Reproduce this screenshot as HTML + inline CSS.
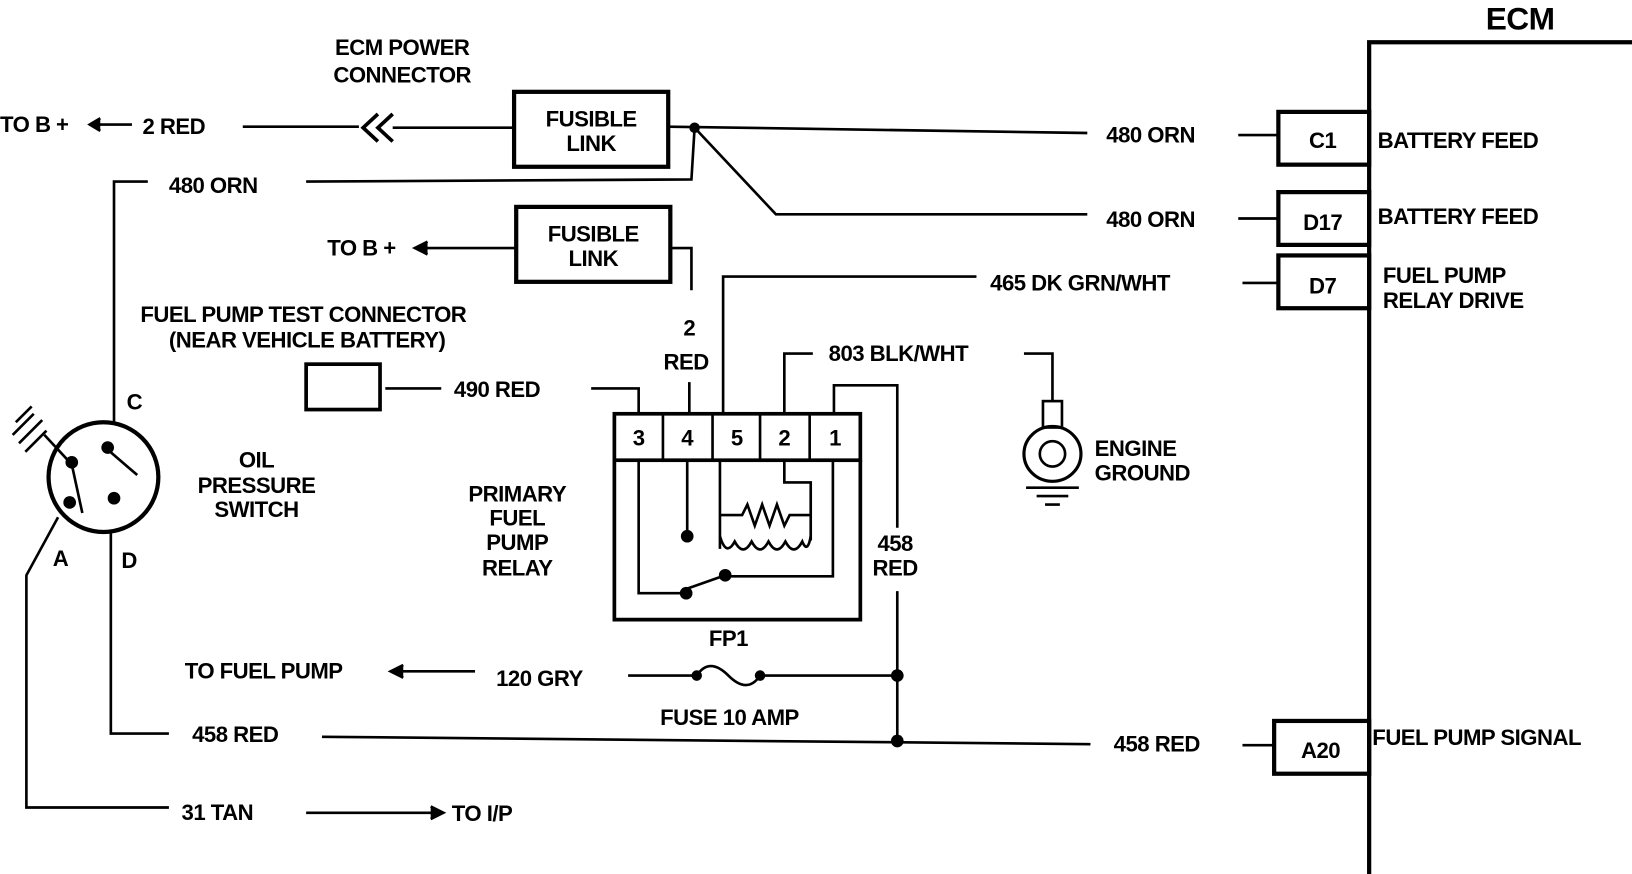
<!DOCTYPE html>
<html><head><meta charset="utf-8"><style>
html,body{margin:0;padding:0;background:#fff;}
svg{display:block;}
text{font-family:"Liberation Sans",sans-serif;font-weight:bold;font-size:21px;fill:#000;letter-spacing:-0.5px;}
</style></head><body>
<svg width="1632" height="874" viewBox="0 0 1546 828" preserveAspectRatio="none" xmlns="http://www.w3.org/2000/svg">
<g stroke="#000" stroke-width="2.5" fill="none">
<path d="M1297 828 V40 H1546" stroke-width="4"/>
<rect x="1211" y="106" width="86" height="50" stroke-width="4"/>
<rect x="1211" y="182" width="86" height="50" stroke-width="4"/>
<rect x="1211" y="242" width="86" height="50" stroke-width="4"/>
<rect x="1207" y="683" width="90" height="50" stroke-width="4"/>
<line x1="1173" y1="128" x2="1211" y2="128"/>
<line x1="1173" y1="207" x2="1211" y2="207"/>
<line x1="1177" y1="268" x2="1211" y2="268"/>
<line x1="1177" y1="706" x2="1207" y2="706"/>
<line x1="230" y1="120" x2="340" y2="120"/>
<path d="M358 108 L344 121 L358 134 M372 108 L358 121 L372 134" stroke-width="3.5"/>
<line x1="372" y1="121" x2="487" y2="121"/>
<rect x="487" y="87" width="146" height="71" stroke-width="4"/>
<line x1="633" y1="120" x2="1030" y2="126"/>
<path d="M658 121 L735 203 H1030"/>
<path d="M658 121 L655 170 L290 172"/>
<path d="M140 172 H108 V400"/>
<line x1="87" y1="118" x2="125" y2="118"/>
<path d="M95 112 L85 118 L95 124" fill="#000"/>
<rect x="489" y="196" width="146" height="71" stroke-width="4"/>
<line x1="395" y1="235" x2="489" y2="235"/>
<path d="M405 229 L393 235 L405 241" fill="#000"/>
<path d="M635 235 H655 V275"/>
<line x1="653" y1="362" x2="653" y2="392"/>
<rect x="582" y="392" width="233" height="44" stroke-width="3.5"/>
<line x1="628" y1="392" x2="628" y2="436"/><line x1="675" y1="392" x2="675" y2="436"/><line x1="720" y1="392" x2="720" y2="436"/><line x1="767" y1="392" x2="767" y2="436"/>
<path d="M582 436 V587 H815 V436" stroke-width="3.5"/>
<path d="M605 392 V368 H560"/>
<line x1="365" y1="368" x2="418" y2="368"/>
<rect x="290" y="345" width="70" height="43" stroke-width="3.5"/>
<path d="M685 392 V262 H925"/>
<path d="M743 392 V335 H770"/>
<path d="M970 335 H997 V380"/>
<rect x="988" y="380" width="18" height="25"/>
<ellipse cx="997" cy="430" rx="27" ry="26" stroke-width="3"/>
<circle cx="997" cy="430" r="12"/>
<path d="M972 462 H1022 M982 470 H1012 M990 478 H1004"/>
<path d="M790 392 V365 H850 V500"/>
<line x1="850" y1="560" x2="850" y2="702"/>
<path d="M605 436 V562 H650"/>
<line x1="651" y1="436" x2="651" y2="508"/>
<line x1="650" y1="558" x2="687" y2="545"/>
<path d="M687 546 H789 V436"/>
<path d="M682 436 V520"/>
<path d="M682 488 H703 L708 478 L715 498 L722 478 L729 498 L736 478 L743 498 L748 488 H768"/>
<path d="M743 436 V457 H768 V512"/>
<path d="M682 508 Q688 528 696 513 Q704 528 712 513 Q720 528 728 513 Q736 528 744 513 Q752 528 760 513 Q765 525 768 508"/>
<line x1="595" y1="640" x2="660" y2="640"/>
<path d="M660 640 Q672 622 690 640 Q708 658 720 640"/>
<line x1="720" y1="640" x2="850" y2="640"/>
<line x1="380" y1="636" x2="450" y2="636"/>
<path d="M382 630 L370 636 L382 642" fill="#000"/>
<path d="M160 695 H105 V505"/>
<line x1="305" y1="698" x2="1033" y2="705"/>
<circle cx="98" cy="452" r="52" stroke-width="4"/>
<path d="M55 490 L25 545 V765 H160"/>
<line x1="290" y1="770" x2="410" y2="770"/>
<path d="M408 764 L420 770 L408 776" fill="#000"/>
<path d="M15 400 L30 385 M12 412 L32 392 M18 420 L40 398 M24 428 L44 408 M42 412 L68 440"/>
<line x1="68" y1="440" x2="78" y2="486"/>
<line x1="102" y1="426" x2="130" y2="450"/>
</g>
<g fill="#000">
<circle cx="658" cy="121" r="5"/>
<circle cx="651" cy="508" r="6"/><circle cx="650" cy="562" r="6"/><circle cx="687" cy="545" r="6"/>
<circle cx="660" cy="640" r="5"/><circle cx="720" cy="640" r="5"/>
<circle cx="850" cy="640" r="6"/><circle cx="850" cy="702" r="6"/>
<circle cx="68" cy="438" r="6"/><circle cx="102" cy="424" r="6"/><circle cx="66" cy="476" r="6"/><circle cx="108" cy="472" r="6"/>
</g>
<text x="1440" y="28" text-anchor="middle" style="font-size:30px">ECM</text>
<text x="1253" y="140" text-anchor="middle">C1</text>
<text x="1253" y="218" text-anchor="middle">D17</text>
<text x="1253" y="278" text-anchor="middle">D7</text>
<text x="1251" y="718" text-anchor="middle">A20</text>
<text x="1305" y="140">BATTERY FEED</text>
<text x="1305" y="212">BATTERY FEED</text>
<text x="1310" y="268">FUEL PUMP</text>
<text x="1310" y="292">RELAY DRIVE</text>
<text x="1300" y="706">FUEL PUMP SIGNAL</text>
<text x="1048" y="135">480 ORN</text>
<text x="1048" y="215">480 ORN</text>
<text x="938" y="275">465 DK GRN/WHT</text>
<text x="785" y="342">803 BLK/WHT</text>
<text x="1037" y="432">ENGINE</text>
<text x="1037" y="455">GROUND</text>
<text x="1055" y="712">458 RED</text>
<text x="381" y="52" text-anchor="middle">ECM POWER</text>
<text x="381" y="78" text-anchor="middle">CONNECTOR</text>
<text x="0" y="125">TO B +</text>
<text x="135" y="127">2 RED</text>
<text x="560" y="120" text-anchor="middle">FUSIBLE</text>
<text x="560" y="143" text-anchor="middle">LINK</text>
<text x="562" y="229" text-anchor="middle">FUSIBLE</text>
<text x="562" y="252" text-anchor="middle">LINK</text>
<text x="160" y="183">480 ORN</text>
<text x="310" y="242">TO B +</text>
<text x="653" y="318" text-anchor="middle">2</text>
<text x="650" y="350" text-anchor="middle">RED</text>
<text x="133" y="305">FUEL PUMP TEST CONNECTOR</text>
<text x="160" y="329">(NEAR VEHICLE BATTERY)</text>
<text x="430" y="376">490 RED</text>
<text x="605" y="422" text-anchor="middle">3</text>
<text x="651" y="422" text-anchor="middle">4</text>
<text x="698" y="422" text-anchor="middle">5</text>
<text x="743" y="422" text-anchor="middle">2</text>
<text x="791" y="422" text-anchor="middle">1</text>
<text x="848" y="522" text-anchor="middle">458</text>
<text x="848" y="545" text-anchor="middle">RED</text>
<text x="490" y="475" text-anchor="middle">PRIMARY</text>
<text x="490" y="498" text-anchor="middle">FUEL</text>
<text x="490" y="521" text-anchor="middle">PUMP</text>
<text x="490" y="545" text-anchor="middle">RELAY</text>
<text x="243" y="443" text-anchor="middle">OIL</text>
<text x="243" y="467" text-anchor="middle">PRESSURE</text>
<text x="243" y="490" text-anchor="middle">SWITCH</text>
<text x="120" y="388">C</text>
<text x="50" y="536">A</text>
<text x="115" y="538">D</text>
<text x="690" y="612" text-anchor="middle">FP1</text>
<text x="175" y="643">TO FUEL PUMP</text>
<text x="470" y="650">120 GRY</text>
<text x="691" y="687" text-anchor="middle">FUSE 10 AMP</text>
<text x="182" y="703">458 RED</text>
<text x="172" y="777">31 TAN</text>
<text x="428" y="778">TO I/P</text>
</svg>
</body></html>
